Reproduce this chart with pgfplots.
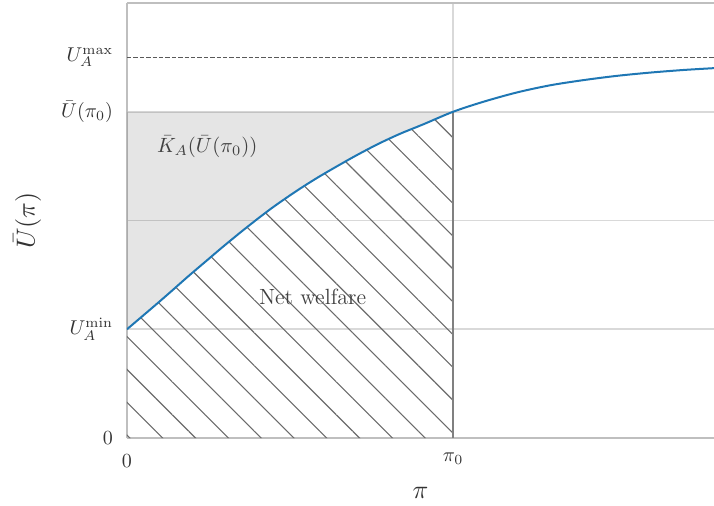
\documentclass[border=0pt]{standalone}
\usepackage{graphicx}
\usepackage{pgfplots}
\pgfplotsset{compat=1.18}
\usepgfplotslibrary{fillbetween}
\usetikzlibrary{patterns.meta}
\definecolor{mplblue}{HTML}{1F77B4}
\pgfplotstableread{
x y
0 1.000
0.087 1.222
0.138 1.355
0.189 1.490
0.245 1.633
0.296 1.763
0.353 1.903
0.409 2.035
0.455 2.138
0.520 2.272
0.582 2.390
0.643 2.497
0.704 2.600
0.771 2.705
0.837 2.797
0.909 2.885
1.000 3.000
1.093 3.092
1.195 3.177
1.297 3.243
1.400 3.291
1.502 3.330
1.604 3.360
1.706 3.384
1.800 3.401
}\curvedata
\begin{document}
\begin{tikzpicture}
\begin{axis}[
  scale only axis, width=293.5pt, height=217.5pt,
  xmin=0, xmax=1.8, ymin=0, ymax=4,
  axis x line*=box, axis y line*=left,
  axis line style={black!25, line width=0.8pt},
  xtick={0,1}, xticklabels={$0$,\raisebox{3pt}{$\pi_0$}},
  ytick={0,1,2,3}, yticklabels={$0$,$U_A^{\min}$,,$\bar U(\pi_0)$},
  extra y ticks={3.5}, extra y tick labels={$U_A^{\max}$},
  extra y tick style={grid=none},
  grid=major, major grid style={black!15, line width=0.8pt},
  major tick length=0pt,
  tick label style={font=\fontsize{10}{12}\selectfont, text=black!80},
  xticklabel style={anchor=base, yshift=-14.5pt},
  yticklabel style={xshift=-3.5pt},
  xlabel={\scalebox{1.3}{$\pi$}}, ylabel={\scalebox{1.3}{$\bar U(\pi)$}},
  every axis x label/.style={at={(axis description cs:0.5,-0.1264)}, anchor=center, text=black!80},
  every axis y label/.style={at={(axis description cs:-0.170,0.5)}, anchor=center, rotate=90, text=black!80},
]
\addplot[name path=curve, draw=none, forget plot, smooth] table {\curvedata};
\addplot[name path=top, draw=none, forget plot] coordinates {(0,3) (1,3)};
\addplot[name path=bot, draw=none, forget plot] coordinates {(0,0) (1,0)};
\addplot[fill=black, fill opacity=0.1, draw=none] fill between[of=curve and top, soft clip={domain=0:1}];
\addplot[pattern={Lines[angle=-45, distance=11.6pt, line width=0.55pt]}, pattern color=black!58, draw=none] fill between[of=curve and bot, soft clip={domain=0:1}];
\addplot[black!50, line width=1pt] coordinates {(1,0) (1,3)};
\addplot[black!65, line width=0.65pt, dash pattern=on 2.2pt off 1pt] coordinates {(0,3.5) (1.8,3.5)};
\addplot[mplblue, line width=1pt, smooth] table {\curvedata};
\node[anchor=west, text=black!75] at (axis cs:0.0705,2.68) {\scalebox{1.03}{$\bar K_A(\bar U(\pi_0))$}};
\node[text=black!75, font=\fontsize{11}{13}\selectfont] at (axis cs:0.569,1.30) {Net welfare};
\end{axis}
\pgfresetboundingbox
\path[use as bounding box] (-63.5pt,-33.5pt) rectangle (293.5pt,219pt);
\end{tikzpicture}
\end{document}
